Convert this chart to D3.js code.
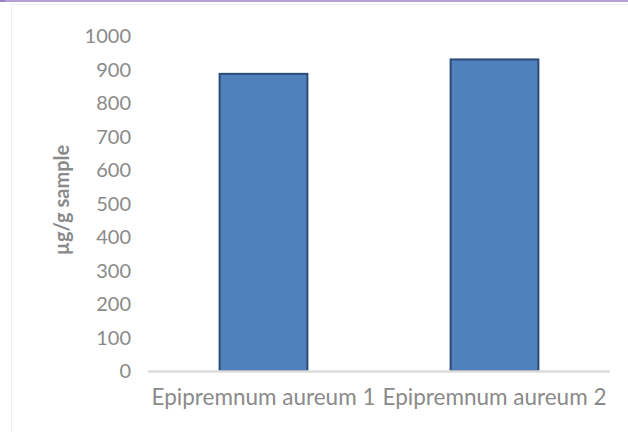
<!doctype html>
<html>
<head>
<meta charset="utf-8">
<script src="https://d3js.org/d3.v7.min.js"></script>
<style>
  body { margin: 0; background: #fff; }
  text { font-family: Lato, "Open Sans", sans-serif; }
</style>
</head>
<body>
<script>
// data
var categories = ["Epipremnum aureum 1", "Epipremnum aureum 2"];
var values = [887, 930];
var yTicks = [0, 100, 200, 300, 400, 500, 600, 700, 800, 900, 1000];
var yTitle = "\u00b5g/g sample";

var width = 628, height = 432;

var svg = d3.select("body").append("svg")
    .attr("width", width)
    .attr("height", height);

svg.append("rect")
    .attr("width", width).attr("height", height)
    .attr("fill", "#fff");

// faint chart frame + purple strip at the top
svg.append("rect")
    .attr("x", 11.5).attr("y", 4.5)
    .attr("width", 640).attr("height", 440)
    .attr("fill", "none")
    .attr("stroke", "#efefef");
svg.append("rect")
    .attr("x", 0).attr("y", 0)
    .attr("width", width).attr("height", 2)
    .attr("fill", "#b4a0d2");
svg.append("rect")
    .attr("x", 0).attr("y", 0)
    .attr("width", 5).attr("height", 2)
    .attr("fill", "#9a80c0");

var x = d3.scaleBand()
    .domain(categories)
    .range([148, 610])
    .paddingInner(0.62)
    .paddingOuter(0.31);

var y = d3.scaleLinear()
    .domain([0, 1000])
    .range([371, 36]);

// y tick labels
svg.append("g")
    .selectAll("text")
    .data(yTicks)
    .enter()
    .append("text")
    .attr("x", 131)
    .attr("y", function(d) { return y(d); })
    .attr("dy", "0.35em")
    .attr("text-anchor", "end")
    .attr("font-size", 20)
    .attr("fill", "#8a8a8a")
    .text(function(d) { return d; });

// bars
svg.append("g")
    .selectAll("rect")
    .data(values)
    .enter()
    .append("rect")
    .attr("x", function(d, i) { return x(categories[i]); })
    .attr("y", function(d) { return y(d); })
    .attr("width", x.bandwidth())
    .attr("height", function(d) { return y(0) - y(d); })
    .attr("fill", "#4f81bd")
    .attr("stroke", "#2c4b75")
    .attr("stroke-width", 2);

// x axis line
svg.append("line")
    .attr("x1", 148).attr("x2", 610)
    .attr("y1", y(0) + 0.5).attr("y2", y(0) + 0.5)
    .attr("stroke", "#dcdcdc")
    .attr("stroke-width", 2.5);

// category labels
svg.append("g")
    .selectAll("text")
    .data(categories)
    .enter()
    .append("text")
    .attr("x", function(d) { return x(d) + x.bandwidth() / 2; })
    .attr("y", 405)
    .attr("text-anchor", "middle")
    .attr("font-size", 22.5)
    .attr("fill", "#8a8a8a")
    .text(function(d) { return d; });

// y axis title
svg.append("text")
    .attr("transform", "translate(69,200) rotate(-90)")
    .attr("text-anchor", "middle")
    .attr("font-size", 20)
    .attr("font-weight", "bold")
    .attr("fill", "#8a8a8a")
    .text(yTitle);
</script>
</body>
</html>
